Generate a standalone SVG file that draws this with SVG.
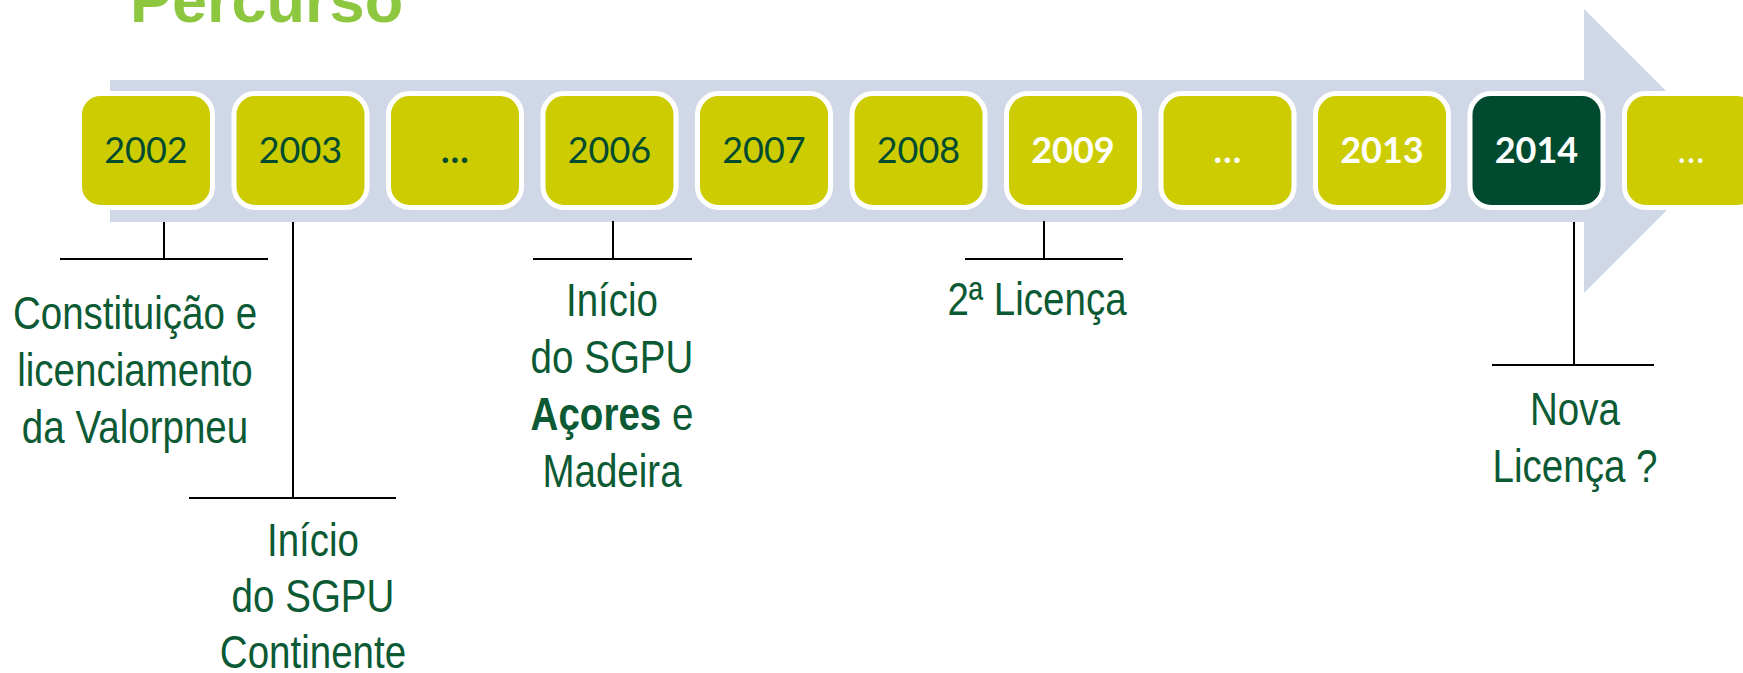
<svg xmlns="http://www.w3.org/2000/svg" width="1743" height="673" viewBox="0 0 1743 673">
<style>
.box{stroke:#fff;stroke-width:5}
.y{fill:#cccc00}
.d{fill:#004b30}
.yr{font-family:Lato,"Open Sans",sans-serif;font-size:36px;text-anchor:middle}
.dk{fill:#004b30}
.wh{fill:#fff}
.b{font-weight:bold}
.lbl{font-family:"Liberation Sans",Arial,sans-serif;font-size:47px;fill:#0b5a34;text-anchor:middle}
.c{stroke:#000;stroke-width:2;fill:none}
</style>
<rect width="1743" height="673" fill="#fff"/>
<text x="130" y="22" font-family="Liberation Sans,Arial,sans-serif" font-weight="bold" font-size="63" fill="#8dc63f">Percurso</text>
<polygon id="arrow" points="110,80 1584,80 1584,9 1726,151 1584,293 1584,222 110,222" fill="#d0d8e8"/>
<g id="n2002"><rect class="box y" x="79.5" y="93.5" width="133" height="114" rx="21"/><text class="yr dk" x="146" y="163">2002</text></g>
<g id="n2003"><rect class="box y" x="234" y="93.5" width="133" height="114" rx="21"/><text class="yr dk" x="300.5" y="163">2003</text></g>
<g id="n_dots1"><rect class="box y" x="388.5" y="93.5" width="133" height="114" rx="21"/><text class="yr dk b" x="455" y="163">…</text></g>
<g id="n2006"><rect class="box y" x="543" y="93.5" width="133" height="114" rx="21"/><text class="yr dk" x="609.5" y="163">2006</text></g>
<g id="n2007"><rect class="box y" x="697.5" y="93.5" width="133" height="114" rx="21"/><text class="yr dk" x="764" y="163">2007</text></g>
<g id="n2008"><rect class="box y" x="852" y="93.5" width="133" height="114" rx="21"/><text class="yr dk" x="918.5" y="163">2008</text></g>
<g id="n2009"><rect class="box y" x="1006.5" y="93.5" width="133" height="114" rx="21"/><text class="yr wh b" x="1073" y="163">2009</text></g>
<g id="n_dots2"><rect class="box y" x="1161" y="93.5" width="133" height="114" rx="21"/><text class="yr wh b" x="1227.5" y="163">…</text></g>
<g id="n2013"><rect class="box y" x="1315.5" y="93.5" width="133" height="114" rx="21"/><text class="yr wh b" x="1382" y="163">2013</text></g>
<g id="n2014"><rect class="box d" x="1470" y="93.5" width="133" height="114" rx="21"/><text class="yr wh b" x="1536.5" y="163">2014</text></g>
<g id="n_dots3"><rect class="box y" x="1624.5" y="93.5" width="133" height="114" rx="21"/><text class="yr wh" x="1691" y="163">…</text></g>
<g id="connectors">
<path class="c" d="M164,222 V259 M60,259 H268"/>
<path class="c" d="M293,222 V498 M189,498 H396"/>
<path class="c" d="M613,221 V259 M533,259 H692"/>
<path class="c" d="M1044,221 V259 M965,259 H1123"/>
<path class="c" d="M1574,222 V365 M1492,365 H1654"/>
</g>
<g id="l2002"><text class="lbl" transform="translate(135 329) scale(0.82 1)">Constituição e</text><text class="lbl" transform="translate(135 386) scale(0.82 1)">licenciamento</text><text class="lbl" transform="translate(135 443) scale(0.82 1)">da Valorpneu</text></g>
<g id="l2003"><text class="lbl" transform="translate(313 556) scale(0.82 1)">Início</text><text class="lbl" transform="translate(313 612) scale(0.82 1)">do SGPU</text><text class="lbl" transform="translate(313 668) scale(0.82 1)">Continente</text></g>
<g id="l2006"><text class="lbl" transform="translate(612 316) scale(0.82 1)">Início</text><text class="lbl" transform="translate(612 373) scale(0.82 1)">do SGPU</text><text class="lbl" transform="translate(612 430) scale(0.82 1)"><tspan font-weight="bold">Açores</tspan> e</text><text class="lbl" transform="translate(612 487) scale(0.82 1)">Madeira</text></g>
<g id="l2009"><text class="lbl" transform="translate(1037 315) scale(0.82 1)">2ª Licença</text></g>
<g id="l2014"><text class="lbl" transform="translate(1575 425) scale(0.82 1)">Nova</text><text class="lbl" transform="translate(1575 482) scale(0.82 1)">Licença ?</text></g>
</svg>
